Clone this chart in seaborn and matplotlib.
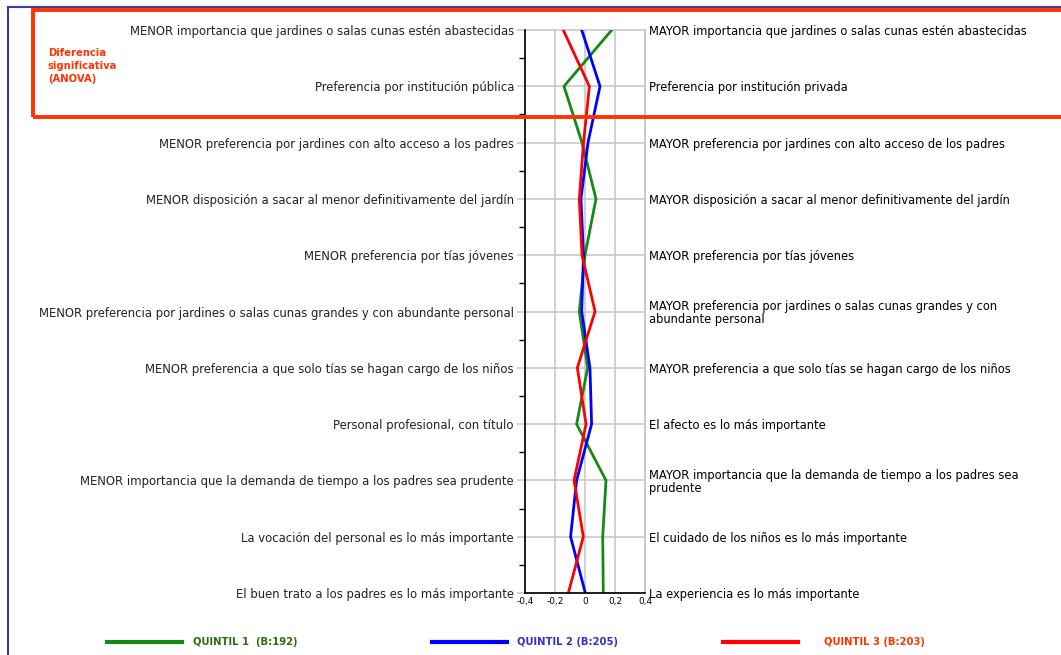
import numpy as np
import pandas as pd
import matplotlib
matplotlib.use('Agg')
import matplotlib.pyplot as plt
import seaborn as sns
from matplotlib.lines import Line2D
from matplotlib.patches import Rectangle

# left / right ends of each semantic-differential scale
left_labels = [
    'MENOR importancia que jardines o salas cunas estén abastecidas',
    'Preferencia por institución pública',
    'MENOR preferencia por jardines con alto acceso a los padres',
    'MENOR disposición a sacar al menor definitivamente del jardín',
    'MENOR preferencia por tías jóvenes',
    'MENOR preferencia por jardines o salas cunas grandes y con abundante personal',
    'MENOR preferencia a que solo tías se hagan cargo de los niños',
    'Personal profesional, con título',
    'MENOR importancia que la demanda de tiempo a los padres sea prudente',
    'La vocación del personal es lo más importante',
    'El buen trato a los padres es lo más importante',
]
right_labels = [
    'MAYOR importancia que jardines o salas cunas estén abastecidas',
    'Preferencia por institución privada',
    'MAYOR preferencia por jardines con alto acceso de los padres',
    'MAYOR disposición a sacar al menor definitivamente del jardín',
    'MAYOR preferencia por tías jóvenes',
    'MAYOR preferencia por jardines o salas cunas grandes y con\nabundante personal',
    'MAYOR preferencia a que solo tías se hagan cargo de los niños',
    'El afecto es lo más importante',
    'MAYOR importancia que la demanda de tiempo a los padres sea\nprudente',
    'El cuidado de los niños es lo más importante',
    'La experiencia es lo más importante',
]

quintil_1 = [0.178, -0.140, -0.020, 0.073, 0.000, -0.038, 0.018, -0.056, 0.140, 0.118, 0.122]
quintil_2 = [-0.022, 0.100, 0.020, -0.027, -0.010, -0.022, 0.033, 0.044, -0.056, -0.096, 0.002]
quintil_3 = [-0.145, 0.029, -0.010, -0.038, -0.020, 0.067, -0.051, 0.007, -0.073, -0.011, -0.111]

series_names = ['QUINTIL 1  (B:192)', 'QUINTIL 2 (B:205)', 'QUINTIL 3 (B:203)']
line_colors = ['#138a13', '#0000ff', '#ff0000']
text_colors = ['#2e6b10', '#3030d0', '#ff3300']

x_ticks = [-0.4, -0.2, 0, 0.2, 0.4]
x_tick_labels = ['-0,4', '-0,2', '0', '0,2', '0,4']

rows = []
for name, vals in zip(series_names, [quintil_1, quintil_2, quintil_3]):
    for i, v in enumerate(vals):
        rows.append({'pos': i, 'valor': v, 'serie': name})
df = pd.DataFrame(rows)

W, H = 1061, 655
fig = plt.figure(figsize=(W / 100, H / 100), dpi=100)
ax = fig.add_axes([525 / W, 1 - 593 / H, 120 / W, 563 / H])

sns.lineplot(data=df, x='valor', y='pos', hue='serie', palette=line_colors,
             orient='y', estimator=None, sort=True, legend=False, lw=2, ax=ax)

n = len(left_labels)
ax.set_xlim(-0.4, 0.4)
ax.set_ylim(n - 1, 0)
ax.set_xticks(x_ticks)
ax.set_xticklabels(x_tick_labels, fontsize=6.5)
ax.set_yticks(range(n))
ax.set_yticklabels(left_labels, fontsize=8.4, color='#222222')
ax.set_yticks(np.arange(0.5, n - 1, 1), minor=True)
ax.tick_params(axis='y', which='major', length=6, color='#c8c8c8', width=1.2, pad=2)
ax.tick_params(axis='y', which='minor', length=4, color='black', width=1)
ax.tick_params(axis='x', length=0, pad=3)
ax.set_xlabel('')
ax.set_ylabel('')
ax.grid(True, color='#c8c8c8', lw=1.2)
ax.set_axisbelow(True)
for gl in ax.get_xgridlines() + ax.get_ygridlines():
    gl.set_clip_on(False)
ax.spines['top'].set_visible(False)
ax.spines['right'].set_color('#c8c8c8')
ax.spines['right'].set_linewidth(1.2)
ax.spines['left'].set_linewidth(1.2)
ax.spines['bottom'].set_linewidth(1.2)

ax2 = ax.twinx()
ax2.set_ylim(n - 1, 0)
ax2.set_yticks(range(n))
ax2.set_yticklabels(right_labels, fontsize=8.3, color='black', linespacing=1.05)
ax2.tick_params(axis='y', length=0, pad=3)
for s in ax2.spines.values():
    s.set_visible(False)

# outer frame and "significant difference" box
fig.add_artist(Line2D([8 / W, 8 / W], [0, 1 - 7 / H], color='#3a3aa0', lw=1.5))
fig.add_artist(Line2D([8 / W, 1], [1 - 7 / H, 1 - 7 / H], color='#3a3aa0', lw=1.5))
fig.add_artist(Rectangle((33 / W, 1 - 117 / H), 1040 / W, 107 / H, transform=fig.transFigure,
                         fill=False, ec='#ff3300', lw=2.8))
fig.text(48 / W, 1 - 66 / H, 'Diferencia\nsignificativa\n(ANOVA)', color='#ff3300',
         fontsize=7.2, fontweight='bold', va='center', ha='left', linespacing=1.4)

# legend at the bottom
leg_x = [107, 432, 723]
txt_x = [193, 517, 824]
for lx, tx, name, lc, tc in zip(leg_x, txt_x, series_names, line_colors, text_colors):
    fig.add_artist(Line2D([lx / W, (lx + 75) / W], [1 - 642 / H] * 2, color=lc, lw=3))
    fig.text(tx / W, 1 - 642 / H, name, color=tc, fontsize=8, fontweight='bold',
             fontstretch='condensed', family=['Liberation Sans Narrow', 'DejaVu Sans'],
             va='center', ha='left')

fig.savefig('out.png', dpi=100)
